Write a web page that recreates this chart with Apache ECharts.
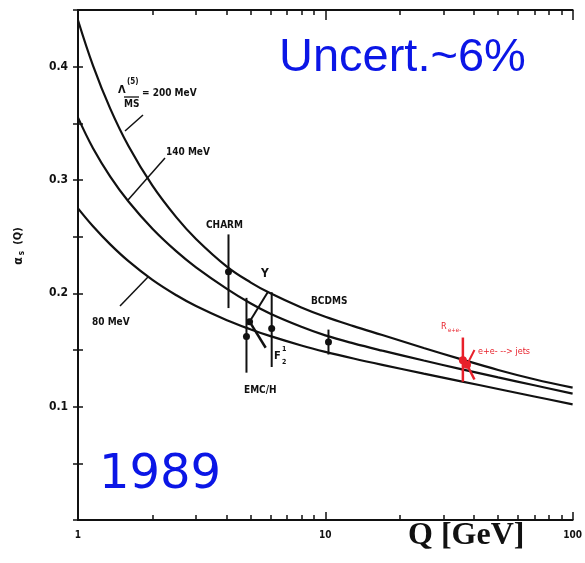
<!DOCTYPE html>
<html>
<head>
<meta charset="utf-8">
<script src="https://cdn.jsdelivr.net/npm/echarts@6/dist/echarts.min.js"></script>
<style>html,body{margin:0;padding:0;background:#fff;}#c{width:585px;height:563px;}</style>
</head>
<body>
<div id="c"></div>
<script>
// ---- data ----
const Q = [1, 1.15, 1.35, 1.6, 2, 2.5, 3, 4, 5, 6, 8, 10, 13, 17, 25, 35, 50, 70, 100];
const alpha200 = [0.441, 0.401, 0.363, 0.330, 0.295, 0.267, 0.248, 0.2236, 0.2095, 0.200, 0.1875, 0.1793, 0.1711, 0.1632, 0.1518, 0.1422, 0.1324, 0.1242, 0.1168];
const alpha140 = [0.355, 0.328, 0.303, 0.281, 0.257, 0.237, 0.223, 0.204, 0.191, 0.182, 0.1705, 0.1629, 0.1558, 0.1494, 0.1407, 0.1334, 0.1258, 0.1189, 0.1115];
const alpha80  = [0.275, 0.2592, 0.2432, 0.2284, 0.2119, 0.1983, 0.1888, 0.1763, 0.1681, 0.1622, 0.1540, 0.1484, 0.1425, 0.1369, 0.1292, 0.1226, 0.1156, 0.1090, 0.1020];

const expNames = ['CHARM', 'EMC/H', 'F2', 'BCDMS'];
const expQ   = [4.06, 4.80, 6.07, 10.3];
const expVal = [0.219, 0.162, 0.169, 0.157];
const expLo  = [0.187, 0.130, 0.135, 0.146];
const expHi  = [0.252, 0.196, 0.201, 0.168];

// Upsilon point with slanted band ends
const upsPoint = [4.94, 0.175];
const upsArms  = [[5.85, 0.201], [5.74, 0.152]];

// e+e- points
const reeQ = 36.0, reeVal = 0.141, reeLo = 0.122, reeHi = 0.161;
const jetsPoint = [37.4, 0.137];
const jetsArms  = [[40.1, 0.150], [40.1, 0.124]];

const yTickLabels = ['0.1', '0.2', '0.3', '0.4'];
const xTickLabels = ['1', '10', '100'];
const minorQ = [2, 3, 4, 5, 6, 7, 8, 9, 20, 30, 40, 50, 60, 70, 80, 90];

// ---- chart ----
const chart = echarts.init(document.getElementById('c'), null, {renderer: 'canvas'});
const INK = '#111';
const BLUE = '#0b16e6';
const RED = '#e8202a';
const lblFont = "'DejaVu Sans Condensed','DejaVu Sans',sans-serif";

function curve(vals) { return Q.map((q, i) => [q, vals[i]]); }
const minorLog = minorQ.map(q => Math.log10(q));

const lineSeries = [alpha200, alpha140, alpha80].map((arr) => ({
  type: 'line', xAxisIndex: 0, yAxisIndex: 0,
  data: curve(arr), smooth: 0.4, showSymbol: false, silent: true,
  lineStyle: {color: INK, width: 2.2}, z: 3
}));

const errSeries = {
  type: 'custom', xAxisIndex: 0, yAxisIndex: 0, z: 5,
  data: expQ.map((q, i) => [q, expVal[i], expLo[i], expHi[i]]),
  encode: {x: 0, y: 1},
  renderItem: function (params, api) {
    const q = api.value(0);
    const p = api.coord([q, api.value(1)]);
    const lo = api.coord([q, api.value(2)]);
    const hi = api.coord([q, api.value(3)]);
    return {type: 'group', children: [
      {type: 'line', shape: {x1: lo[0], y1: lo[1], x2: hi[0], y2: hi[1]}, style: {stroke: INK, lineWidth: 2}},
      {type: 'circle', shape: {cx: p[0], cy: p[1], r: 3.5}, style: {fill: INK}}
    ]};
  }
};

function armSeries(point, arms, color, r) {
  return {
    type: 'custom', xAxisIndex: 0, yAxisIndex: 0, z: 6,
    data: [[point[0], point[1], arms[0][0], arms[0][1], arms[1][0], arms[1][1]]],
    encode: {x: 0, y: 1},
    renderItem: function (params, api) {
      const p = api.coord([api.value(0), api.value(1)]);
      const a = api.coord([api.value(2), api.value(3)]);
      const b = api.coord([api.value(4), api.value(5)]);
      return {type: 'group', children: [
        {type: 'line', shape: {x1: p[0], y1: p[1], x2: a[0], y2: a[1]}, style: {stroke: color, lineWidth: 2}},
        {type: 'line', shape: {x1: p[0], y1: p[1], x2: b[0], y2: b[1]}, style: {stroke: color, lineWidth: 2.5}},
        {type: 'circle', shape: {cx: p[0], cy: p[1], r: r}, style: {fill: color}}
      ]};
    }
  };
}

const reeSeries = {
  type: 'custom', xAxisIndex: 0, yAxisIndex: 0, z: 6,
  data: [[reeQ, reeVal, reeLo, reeHi]],
  encode: {x: 0, y: 1},
  renderItem: function (params, api) {
    const q = api.value(0);
    const p = api.coord([q, api.value(1)]);
    const lo = api.coord([q, api.value(2)]);
    const hi = api.coord([q, api.value(3)]);
    return {type: 'group', children: [
      {type: 'line', shape: {x1: lo[0], y1: lo[1], x2: hi[0], y2: hi[1]}, style: {stroke: RED, lineWidth: 2.5}},
      {type: 'circle', shape: {cx: p[0], cy: p[1], r: 4}, style: {fill: RED}}
    ]};
  }
};

const axisLine = {show: true, lineStyle: {color: INK, width: 2}};

function txt(x, y, text, size, extra) {
  return Object.assign({type: 'text', x: x, y: y, z: 20, silent: true,
    style: {text: text, font: 'bold ' + size + 'px ' + lblFont, fill: INK, textVerticalAlign: 'middle'}}, extra || {});
}
function seg(x1, y1, x2, y2, color, w) {
  return {type: 'line', z: 20, silent: true, shape: {x1, y1, x2, y2}, style: {stroke: color || INK, lineWidth: w || 1.5}};
}

const option = {
  animation: false,
  backgroundColor: '#fff',
  grid: {left: 78, right: 12, top: 10, bottom: 43, containLabel: false},
  xAxis: [
    {type: 'log', logBase: 10, min: 1, max: 100, position: 'bottom',
      axisLine: axisLine,
      axisTick: {show: true, inside: true, length: 8, lineStyle: {color: INK, width: 1.5}},
      axisLabel: {show: true, margin: 10, fontSize: 10, fontWeight: 'bold', fontFamily: lblFont, color: INK,
        formatter: function (v) { const i = [1, 10, 100].indexOf(Math.round(v)); return i >= 0 ? xTickLabels[i] : ''; }},
      splitLine: {show: false}, minorTick: {show: false}},
    {type: 'value', min: 0, max: 2, position: 'bottom',
      axisLine: {show: false},
      axisTick: {show: true, inside: true, length: 5, customValues: minorLog, lineStyle: {color: INK, width: 1.5}},
      axisLabel: {show: false}, splitLine: {show: false}},
    {type: 'log', logBase: 10, min: 1, max: 100, position: 'top',
      axisLine: axisLine,
      axisTick: {show: true, inside: true, length: 10, lineStyle: {color: INK, width: 1.5}},
      axisLabel: {show: false}, splitLine: {show: false}},
    {type: 'value', min: 0, max: 2, position: 'top',
      axisLine: {show: false},
      axisTick: {show: true, inside: true, length: 5, customValues: minorLog, lineStyle: {color: INK, width: 1.5}},
      axisLabel: {show: false}, splitLine: {show: false}}
  ],
  yAxis: [
    {type: 'value', min: 0, max: 0.45, interval: 0.05, position: 'left',
      axisLine: axisLine,
      axisTick: {show: true, inside: true, length: 5, lineStyle: {color: INK, width: 1.5}},
      axisLabel: {show: true, margin: 10, fontSize: 12, fontWeight: 'bold', fontFamily: lblFont, color: INK,
        formatter: function (v) { const r = Math.round(v * 100); const i = [10, 20, 30, 40].indexOf(r); return i >= 0 ? yTickLabels[i] : ''; }},
      splitLine: {show: false}},
    {type: 'value', min: 0, max: 0.45, interval: 0.05, position: 'right',
      axisLine: axisLine,
      axisTick: {show: true, inside: true, length: 5, lineStyle: {color: INK, width: 1.5}},
      axisLabel: {show: false}, splitLine: {show: false}}
  ],
  series: lineSeries.concat([
    errSeries,
    armSeries(upsPoint, upsArms, INK, 3.5),
    reeSeries,
    armSeries(jetsPoint, jetsArms, RED, 4)
  ]),
  graphic: [
    // curve labels
    txt(118, 90, 'Λ', 11),
    txt(127, 82, '(5)', 8),
    seg(124, 97, 139, 97, INK, 1.3),
    txt(124, 104, 'MS', 10),
    txt(142, 93, '= 200 MeV', 10),
    seg(125, 131, 143, 115),
    txt(166, 152, '140 MeV', 10),
    seg(128, 200, 165, 158),
    txt(92, 322, '80 MeV', 10),
    seg(120, 306, 148, 277),
    // experiment labels
    txt(206, 225, 'CHARM', 10),
    txt(261, 274, 'Y', 12),
    txt(311, 301, 'BCDMS', 10),
    txt(244, 390, 'EMC/H', 10),
    txt(274, 356, 'F', 11),
    txt(282, 349, '1', 7),
    txt(282, 362, '2', 7),
    // e+e- labels
    {type: 'text', x: 441, y: 327, z: 20, silent: true, style: {text: 'R', font: '9px ' + lblFont, fill: RED, textVerticalAlign: 'middle'}},
    {type: 'text', x: 448, y: 330, z: 20, silent: true, style: {text: 'e+e-', font: '6px ' + lblFont, fill: RED, textVerticalAlign: 'middle'}},
    {type: 'text', x: 478, y: 352, z: 20, silent: true, style: {text: 'e+e- --> jets', font: '9px ' + lblFont, fill: RED, textVerticalAlign: 'middle'}},
    // axis titles
    {type: 'text', x: 408, y: 552, z: 20, silent: true,
      style: {text: 'Q [GeV]', font: 'bold 32px "Liberation Serif", "DejaVu Serif", serif', fill: INK, textVerticalAlign: 'bottom'}},
    {type: 'text', x: 19, y: 261, rotation: Math.PI / 2, z: 20, silent: true,
      style: {text: 'α', font: 'bold 12px ' + lblFont, fill: INK, textAlign: 'center', textVerticalAlign: 'middle'}},
    {type: 'text', x: 22, y: 253, rotation: Math.PI / 2, z: 20, silent: true,
      style: {text: 's', font: 'bold 8px ' + lblFont, fill: INK, textAlign: 'center', textVerticalAlign: 'middle'}},
    {type: 'text', x: 18, y: 236, rotation: Math.PI / 2, z: 20, silent: true,
      style: {text: '(Q)', font: 'bold 11px ' + lblFont, fill: INK, textAlign: 'center', textVerticalAlign: 'middle'}},
    // blue annotations
    {type: 'text', x: 279, y: 82, z: 20, silent: true,
      style: {text: 'Uncert.~6%', font: '47px "Liberation Sans", Arial, sans-serif', fill: BLUE, textVerticalAlign: 'bottom'}},
    {type: 'text', x: 99, y: 500, z: 20, silent: true,
      style: {text: '1989', font: '48px "DejaVu Sans", sans-serif', fill: BLUE, textVerticalAlign: 'bottom'}}
  ]
};
chart.setOption(option);
</script>
</body>
</html>
